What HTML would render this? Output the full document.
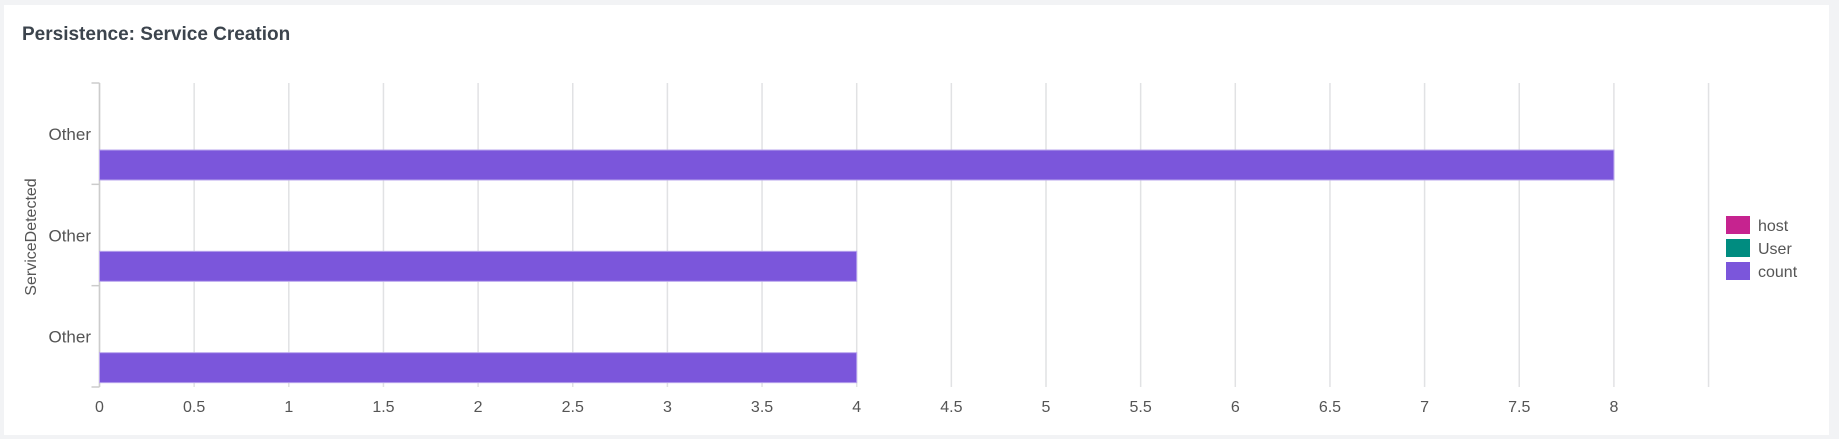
<!DOCTYPE html>
<html><head><meta charset="utf-8"><style>
body{margin:0;width:1839px;height:439px;background:#f2f3f5;overflow:hidden;font-family:"Liberation Sans",sans-serif;}
#panel{position:absolute;left:4px;top:5px;width:1825px;height:430px;background:#fff;}
#title{position:absolute;left:18px;top:19px;font-size:19px;font-weight:bold;color:#3c444d;}
svg{position:absolute;left:0;top:0;}
</style></head><body>
<div id="panel">
<div id="title">Persistence: Service Creation</div>
</div>
<svg id="chart" width="1839" height="439"></svg>
<script>
const categories = ["Other","Other","Other"];
const countValues = [8,4,4];
const xTicks = [0,0.5,1,1.5,2,2.5,3,3.5,4,4.5,5,5.5,6,6.5,7,7.5,8,8.5];
const xTickLabels = ["0","0.5","1","1.5","2","2.5","3","3.5","4","4.5","5","5.5","6","6.5","7","7.5","8",""];
const legendLabels = ["host","User","count"];
const legendColors = ["#c6238f","#008c80","#7b56db"];

(function(){
const NS="http://www.w3.org/2000/svg";
const svg=document.getElementById('chart');
const x0=99.5, unit=189.3, plotTop=83, plotBottom=387;
const band=(plotBottom-plotTop)/categories.length;
const xs=v=>x0+v*unit;
const yb=i=>plotTop+i*band;
function mk(t,a){const e=document.createElementNS(NS,t);for(const k in a)e.setAttribute(k,a[k]);svg.appendChild(e);return e;}

xTicks.forEach((t,i)=>{
  const g=mk('line',{x1:xs(t),x2:xs(t),y1:plotTop,y2:plotBottom,stroke:'#e1e2e4','stroke-width':1.5});
  
  
  const l=mk('text',{x:xs(t),y:412,'text-anchor':'middle','font-size':16,fill:'#555','font-family':'Liberation Sans, sans-serif'});
  l.textContent=xTickLabels[i];
  
  
});
const ax=mk('line',{x1:x0,x2:x0,y1:plotTop,y2:plotBottom,stroke:'#ccc','stroke-width':1.5});


for(let i=0;i<=categories.length;i++){
  const t=mk('line',{x1:x0-8,x2:x0,y1:yb(i),y2:yb(i),stroke:'#ccc','stroke-width':1.5});
  
  
}
categories.forEach((c,i)=>{
  const l=mk('text',{x:91,y:yb(i)+57,'text-anchor':'end','font-size':17,fill:'#555','font-family':'Liberation Sans, sans-serif'});
  l.textContent=c;
  
  
  const b=mk('rect',{x:x0,y:yb(i)+67,width:xs(countValues[i])-x0,height:30,fill:'#7b56db',stroke:'#b9a5ee','stroke-width':1});
  
  
});
const yt=mk('text',{x:0,y:0,transform:'translate(36,237) rotate(-90)','text-anchor':'middle','font-size':16,fill:'#555','font-family':'Liberation Sans, sans-serif'});
yt.textContent='ServiceDetected';


legendLabels.forEach((n,i)=>{
  const r=mk('rect',{x:1726,y:216+i*23,width:24,height:18,fill:legendColors[i]});
  
  
  const t=mk('text',{x:1758,y:231+i*23,'font-size':16,fill:'#555','font-family':'Liberation Sans, sans-serif'});
  t.textContent=n;
  
  
});
})();
</script>
</body></html>
